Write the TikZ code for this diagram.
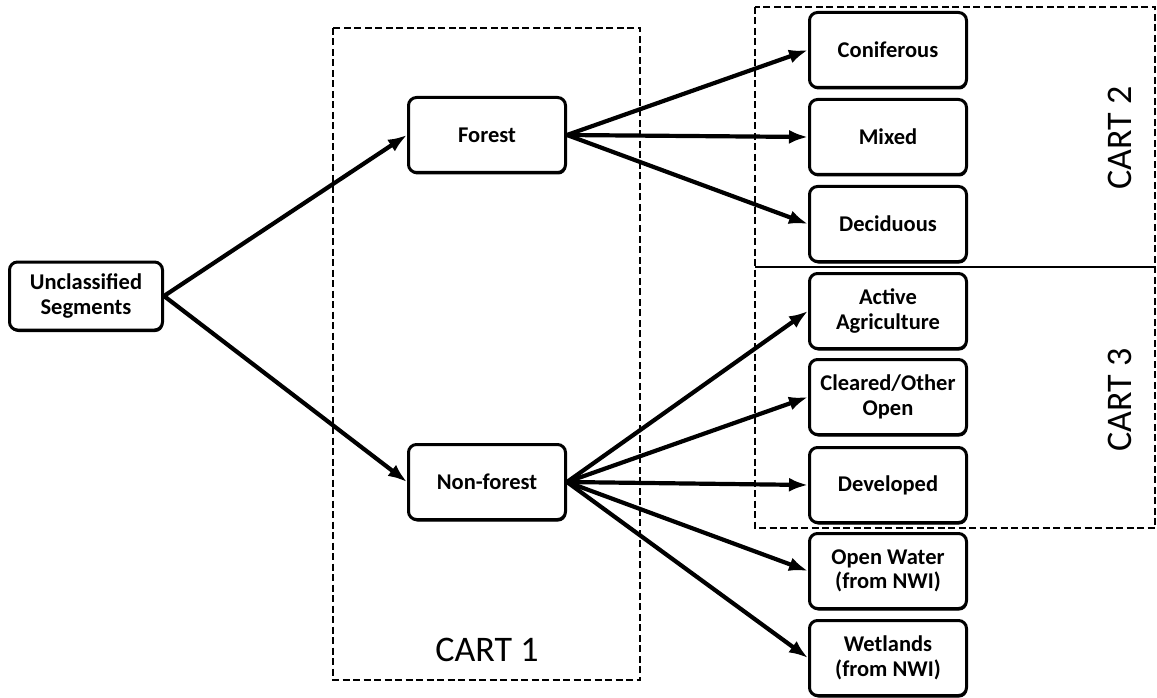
\documentclass[tikz,border=0pt]{standalone}
\usepackage{fontspec}
\setmainfont{Carlito}
\usetikzlibrary{arrows.meta,shadows}
\begin{document}
\begin{tikzpicture}[x=1pt,y=-1pt,
  box/.style={draw=black, line width=3pt, rounded corners=8pt, fill=white,
    minimum width=157pt, minimum height=75pt, align=center,
    font=\fontsize{22.5}{24.5}\selectfont\bfseries,
    drop shadow={shadow xshift=0.8pt, shadow yshift=-2pt, fill=black, opacity=1}},
  region/.style={draw=black, line width=2.8pt, dash pattern=on 7pt off 3.5pt},
  arr/.style={line width=4.2pt, -{Latex[length=19pt,width=14pt]}},
  cart/.style={font=\fontsize{36}{40}\selectfont}]
\useasboundingbox (0,0) rectangle (1157,698);
% regions
\draw[region] (333,28) rectangle (640,680);
\draw[region] (755,7) rectangle (1155,528);
\draw[line width=2pt] (755,267) -- (1155,267);
\node[cart] (c1) at (487,650) {CART 1};
\node[cart, rotate=90] (c2) at (1120,138) {CART 2};
\node[cart, rotate=90] (c3) at (1120,400) {CART 3};
% nodes
\node[box, minimum width=153pt, minimum height=68pt] (u) at (86,296) {Unclassified\\Segments};
\node[box] (f) at (487,135) {Forest};
\node[box] (nf) at (487,482) {Non-forest};
\node[box] (con) at (888,50) {Coniferous};
\node[box] (mix) at (888,137) {Mixed};
\node[box] (dec) at (888,224) {Deciduous};
\node[box] (agr) at (888,311) {Active\\Agriculture};
\node[box] (clr) at (888,397) {Cleared/Other\\Open};
\node[box] (dev) at (888,485) {Developed};
\node[box] (ow) at (888,571) {Open Water\\(from NWI)};
\node[box] (wet) at (888,658) {Wetlands\\(from NWI)};
% connectors
\draw[arr] (u.east) -- (f.west);
\draw[arr] (u.east) -- (nf.west);
\draw[arr] (f.east) -- (con.west);
\draw[arr] (f.east) -- (mix.west);
\draw[arr] (f.east) -- (dec.west);
\draw[arr] (nf.east) -- (agr.west);
\draw[arr] (nf.east) -- (clr.west);
\draw[arr] (nf.east) -- (dev.west);
\draw[arr] (nf.east) -- (ow.west);
\draw[arr] (nf.east) -- (wet.west);
\end{tikzpicture}
\end{document}
